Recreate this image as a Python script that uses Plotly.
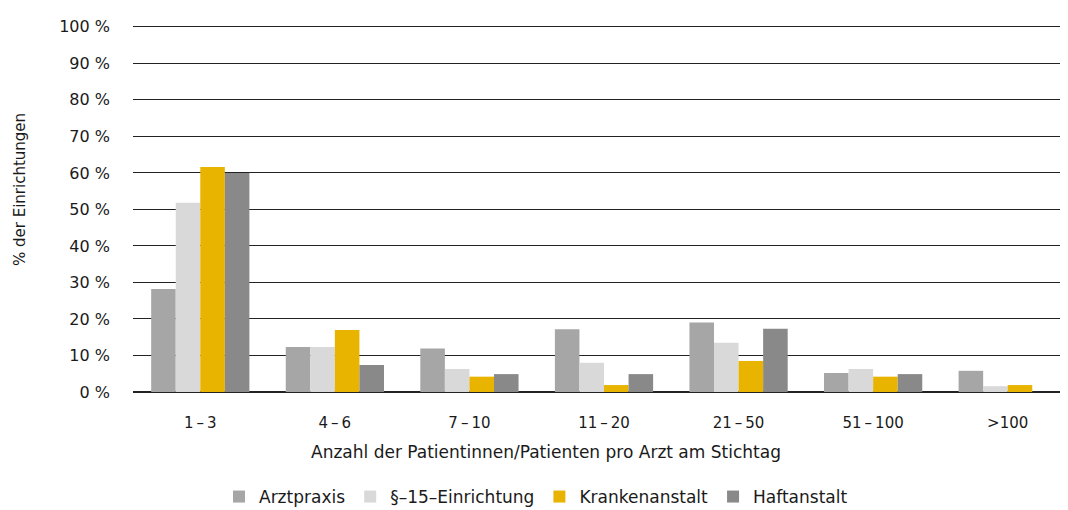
import plotly.graph_objects as go

categories = ["1\u2009–\u20093", "4\u2009–\u20096", "7\u2009–\u200910", "11\u2009–\u200920", "21\u2009–\u200950", "51\u2009–\u2009100", ">100"]
series_names = ["Arztpraxis", "§–15–Einrichtung", "Krankenanstalt", "Haftanstalt"]
arztpraxis = [28.2, 12.3, 11.9, 17.2, 19.0, 5.2, 5.8]
einrichtung15 = [51.8, 12.3, 6.3, 8.0, 13.5, 6.3, 1.6]
krankenanstalt = [61.6, 17.0, 4.2, 1.9, 8.5, 4.2, 1.9]
haftanstalt = [60.0, 7.4, 4.9, 4.9, 17.3, 4.9, 0.0]
y_ticks = [0, 10, 20, 30, 40, 50, 60, 70, 80, 90, 100]

colors = ["#a6a6a6", "#d9d9d9", "#e8b400", "#898989"]
values = [arztpraxis, einrichtung15, krankenanstalt, haftanstalt]

font_family = "DejaVu Sans"
OFF = 8  # page body margin
W, H = 1067, 502
L, R, T, B = 125, 0, 17, 118

fig = go.Figure()
for name, vals, col in zip(series_names, values, colors):
    fig.add_trace(go.Bar(x=categories, y=vals, name=name, marker=dict(color=col, line=dict(width=0))))

plot_w = W - L - R
plot_h = H - T - B


def px_x(wx):
    return (wx - OFF - L) / plot_w


def px_y(wy):
    return (T + plot_h - (wy - OFF)) / plot_h


fig.update_layout(
    width=W, height=H,
    margin=dict(l=L, r=R, t=T, b=B, autoexpand=False),
    paper_bgcolor="white", plot_bgcolor="white",
    barmode="group", bargap=0.27, bargroupgap=0,
    font=dict(family=font_family, size=15, color="#1a1a1a"),
    showlegend=True,
    legend=dict(orientation="h", x=(536 - OFF) / W, xanchor="center", xref="container",
                y=1 - (497 - OFF) / H, yanchor="middle", yref="container",
                font=dict(size=17), traceorder="normal", itemwidth=30),
    xaxis=dict(showgrid=False, showline=False, ticks="", tickfont=dict(size=15),
               ticklabelstandoff=20, automargin=False),
    yaxis=dict(range=[0, 100.5], tickvals=y_ticks, ticktext=[f"{v}\u00a0%" for v in y_ticks],
               showgrid=True, gridcolor="#222222", gridwidth=1.3,
               zeroline=True, zerolinecolor="#222222", zerolinewidth=1.6, showline=False,
               ticks="", ticklabelstandoff=22, tickfont=dict(size=16), automargin=False),
    annotations=[
        dict(text="Anzahl der Patientinnen/Patienten pro Arzt am Stichtag",
             xref="paper", yref="paper", x=px_x(546), y=px_y(452),
             xanchor="center", yanchor="middle", showarrow=False, font=dict(size=17)),
        dict(text="% der Einrichtungen", textangle=-90,
             xref="paper", yref="paper", x=px_x(20), y=px_y(190),
             xanchor="center", yanchor="middle", showarrow=False, font=dict(size=15)),
    ],
)

fig.write_html("out.html")
